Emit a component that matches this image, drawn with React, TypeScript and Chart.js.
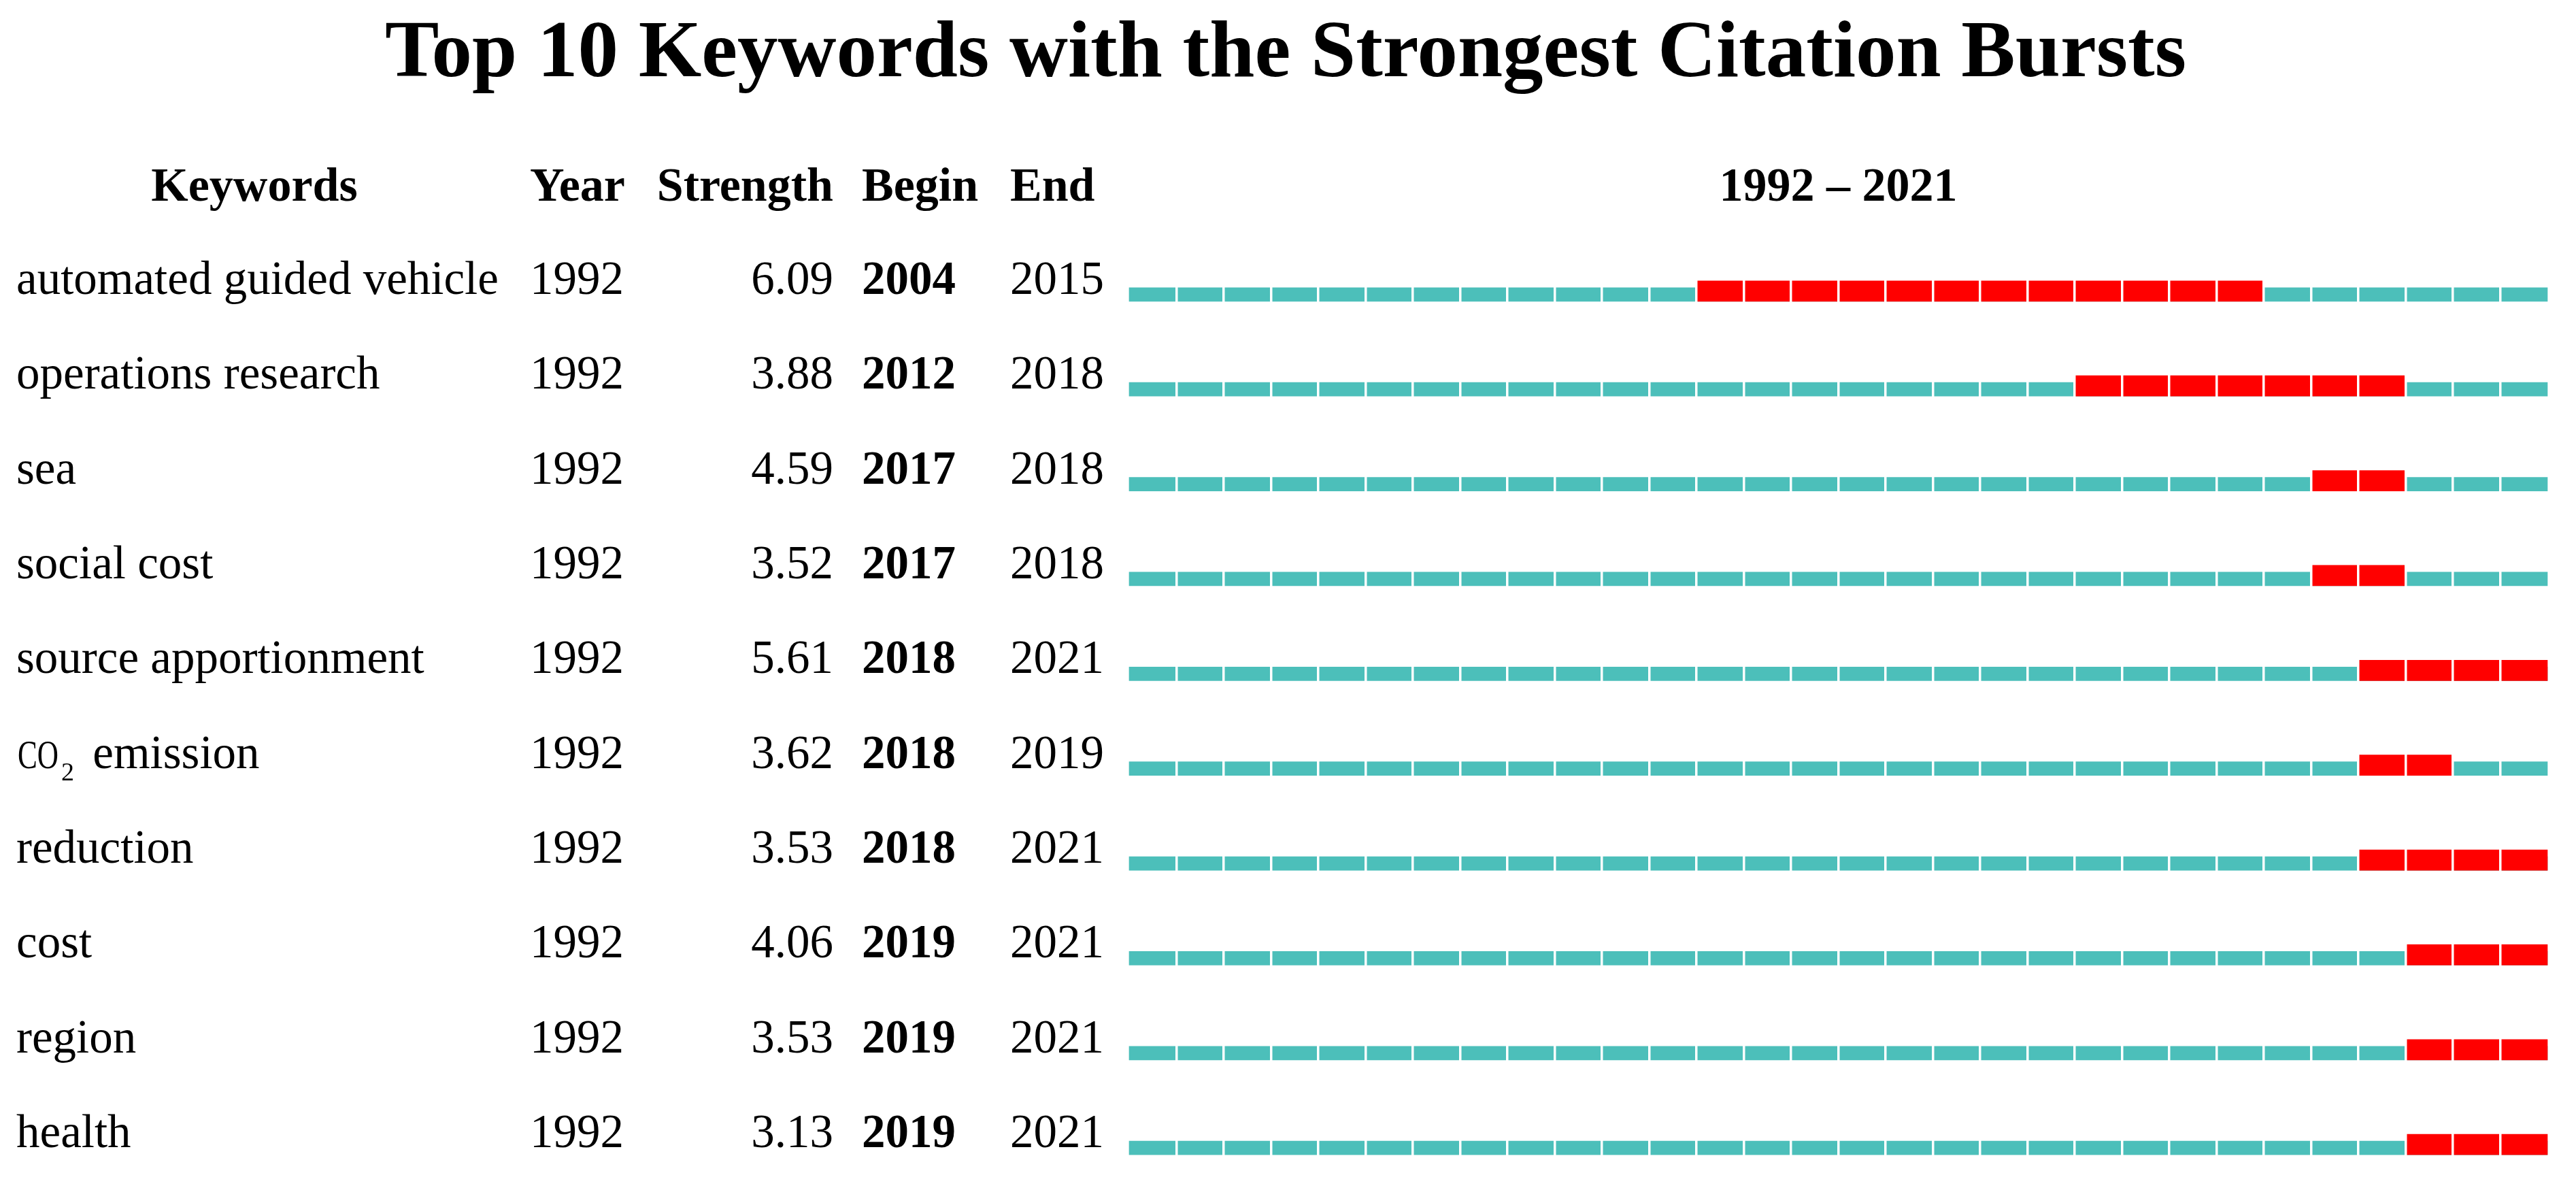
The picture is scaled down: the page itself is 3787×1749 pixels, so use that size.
import { useEffect, useRef } from "react";
import { Chart, registerables } from "chart.js";

Chart.register(...registerables);

const TITLE = "Top 10 Keywords with the Strongest Citation Bursts";
const HEADERS = ["Keywords", "Year", "Strength", "Begin", "End"];
const KEYWORDS = [
  "automated guided vehicle",
  "operations research",
  "sea",
  "social cost",
  "source apportionment",
  "CO₂ emission",
  "reduction",
  "cost",
  "region",
  "health",
];
const YEARS = [1992, 1992, 1992, 1992, 1992, 1992, 1992, 1992, 1992, 1992];
const STRENGTHS = [6.09, 3.88, 4.59, 3.52, 5.61, 3.62, 3.53, 4.06, 3.53, 3.13];
const BEGINS = [2004, 2012, 2017, 2017, 2018, 2018, 2018, 2019, 2019, 2019];
const ENDS = [2015, 2018, 2018, 2018, 2021, 2019, 2021, 2021, 2021, 2021];
const RANGE_START = 1992;
const RANGE_END = 2021;

const TEAL = "#4cbfba";
const RED = "#ff0000";
const SERIF = "'Liberation Serif', 'Times New Roman', serif";

const W = 3787;
const H = 1749;

const tablePlugin = {
  id: "burstTable",
  beforeDatasetDraw(chart: any, args: any) {
    if (args.meta && args.meta.label === "Burst") {
      chart.ctx.save();
      chart.ctx.translate(0, -5);
    }
  },
  afterDatasetDraw(chart: any, args: any) {
    if (args.meta && args.meta.label === "Burst") chart.ctx.restore();
  },
  afterDraw(chart: any) {
    const ctx = chart.ctx as CanvasRenderingContext2D;
    const xs = chart.scales.x;
    const ys = chart.scales.y;
    ctx.save();
    ctx.fillStyle = "#000";
    ctx.textBaseline = "alphabetic";

    // title
    ctx.font = `bold 119px ${SERIF}`;
    ctx.textAlign = "center";
    ctx.fillText(TITLE, 1890, 112);

    // headers
    const hy = 295;
    ctx.font = `bold 70px ${SERIF}`;
    ctx.textAlign = "center";
    ctx.fillText(HEADERS[0], 374, hy);
    ctx.textAlign = "left";
    ctx.fillText(HEADERS[1], 779, hy);
    ctx.textAlign = "right";
    ctx.fillText(HEADERS[2], 1225, hy);
    ctx.textAlign = "left";
    ctx.fillText(HEADERS[3], 1267, hy);
    ctx.fillText(HEADERS[4], 1485, hy);
    ctx.textAlign = "center";
    const midX = xs.getPixelForValue((RANGE_START + RANGE_END + 1) / 2);
    ctx.fillText(`${RANGE_START} – ${RANGE_END}`, midX, hy);

    // rows
    KEYWORDS.forEach((kw, i) => {
      const y = ys.getPixelForValue(i) - 1;
      ctx.font = `69px ${SERIF}`;
      ctx.textAlign = "left";
      const subIdx = kw.indexOf("₂");
      if (subIdx >= 0) {
        const pre = kw.slice(0, subIdx);
        const rest = kw.slice(subIdx + 1);
        ctx.save();
        ctx.font = `60px ${SERIF}`;
        ctx.translate(26, y);
        ctx.scale(0.72, 1);
        ctx.fillText(pre, 0, 0);
        const pw = ctx.measureText(pre).width * 0.72;
        ctx.restore();
        ctx.font = `38px ${SERIF}`;
        const sx = 26 + pw + 4;
        ctx.fillText("2", sx, y + 18);
        const sw = ctx.measureText("2").width;
        ctx.font = `69px ${SERIF}`;
        ctx.fillText(rest, sx + sw + 10, y);
      } else {
        ctx.fillText(kw, 24, y);
      }
      ctx.fillText(String(YEARS[i]), 779, y);
      ctx.textAlign = "right";
      ctx.fillText(STRENGTHS[i].toFixed(2), 1225, y);
      ctx.textAlign = "left";
      ctx.font = `bold 69px ${SERIF}`;
      ctx.fillText(String(BEGINS[i]), 1267, y);
      ctx.font = `69px ${SERIF}`;
      ctx.fillText(String(ENDS[i]), 1485, y);
    });
    ctx.restore();
  },
};

export default function App() {
  const ref = useRef<HTMLCanvasElement | null>(null);
  useEffect(() => {
    document.body.style.margin = "0";
    document.body.style.overflow = "hidden";
    const canvas = ref.current;
    if (!canvas) return;
    const chart = new Chart(canvas, {
      type: "bar",
      data: {
        datasets: [
          {
            label: "Burst",
            data: KEYWORDS.map((_, i) => ({ x: [BEGINS[i], ENDS[i] + 1], y: i })),
            backgroundColor: RED,
            barThickness: 30,
            grouped: false,
            clip: false,
            order: 0,
          } as any,
          {
            label: "Range",
            data: KEYWORDS.map((_, i) => ({ x: [YEARS[i], RANGE_END + 1], y: i })),
            backgroundColor: TEAL,
            barThickness: 20,
            grouped: false,
            clip: false,
            order: 1,
          } as any,
        ],
      },
      options: {
        indexAxis: "y",
        responsive: false,
        animation: false,
        devicePixelRatio: 1,
        layout: { padding: { left: 1660, right: W - 3745, top: 391, bottom: 20 } },
        plugins: {
          legend: { display: false },
          tooltip: { enabled: false },
          title: { display: false },
        },
        scales: {
          x: {
            type: "linear",
            min: RANGE_START,
            max: RANGE_END + 1,
            offset: false,
            ticks: { display: false, stepSize: 1, maxTicksLimit: 100 },
            border: { display: false },
            grid: {
              z: 1,
              color: "#ffffff",
              drawTicks: false,
              lineWidth: (c: any) =>
                c.tick && (c.tick.value === RANGE_START || c.tick.value === RANGE_END + 1) ? 0 : 3.5,
            },
          },
          y: {
            type: "linear",
            reverse: true,
            offset: false,
            min: -0.3,
            max: KEYWORDS.length - 1 + 0.3,
            display: false,
          },
        },
      },
      plugins: [tablePlugin],
    } as any);
    return () => chart.destroy();
  }, []);
  return (
    <div style={{ width: W, height: H, background: "#fff" }}>
      <canvas ref={ref} width={W} height={H} style={{ display: "block" }} />
    </div>
  );
}
